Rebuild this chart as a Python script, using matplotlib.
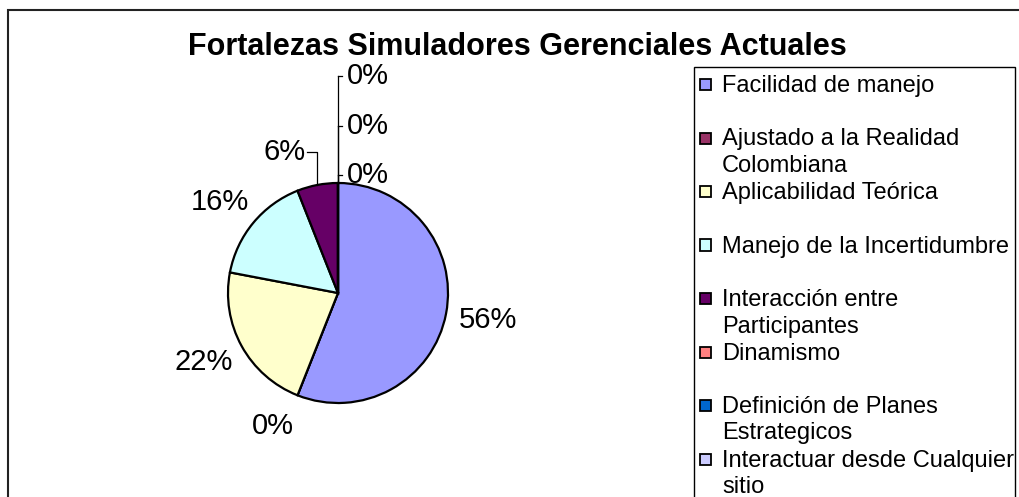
import numpy as np
import matplotlib.pyplot as plt
from matplotlib.patches import Rectangle

plt.rcParams['font.family'] = ['Liberation Sans', 'DejaVu Sans']

# datos del grafico
categorias = [
    'Facilidad de manejo',
    'Ajustado a la Realidad\nColombiana',
    'Aplicabilidad Teórica',
    'Manejo de la Incertidumbre',
    'Interacción entre\nParticipantes',
    'Dinamismo',
    'Definición de Planes\nEstrategicos',
    'Interactuar desde Cualquier\nsitio',
]
porcentajes = [56, 0, 22, 16, 6, 0, 0, 0]
colores = ['#9999FF', '#993366', '#FFFFCC', '#CCFFFF', '#660066',
           '#FF8080', '#0066CC', '#CCCCFF']
titulo = 'Fortalezas Simuladores Gerenciales Actuales'

W, H = 1019, 497
fig = plt.figure(figsize=(W / 100, H / 100), dpi=100)

# marco exterior
fig.patches.append(Rectangle((8 / W, -0.2), 1.2, 1.2 - 10 / H, transform=fig.transFigure,
                             fill=False, edgecolor='#222222', linewidth=1.5))

fig.text(517 / W, 1 - 55 / H, titulo, ha='center', va='baseline',
         fontsize=22, fontweight='bold')

# ejes de la torta: centro (338, 293) px, radio 110 px
cx, cy, r = 338, 293, 110
ax = fig.add_axes([(cx - 2 * r) / W, (H - cy - 2 * r) / H, 4 * r / W, 4 * r / H])
wedges, _ = ax.pie(porcentajes, colors=colores, startangle=90, counterclock=False,
                   radius=1, wedgeprops=dict(edgecolor='black', linewidth=1.6))
ax.set_xlim(-2, 2)
ax.set_ylim(-2, 2)
ax.set_aspect('equal')
ax.axis('off')

fs = 21
k_top = 0
for w, v in zip(wedges, porcentajes):
    txt = f'{v:.0f}%'
    mid = np.deg2rad((w.theta1 + w.theta2) / 2)
    dx, dy = np.cos(mid), np.sin(mid)
    if v == 0 and abs(dy - 1) < 1e-6:
        # ceros apilados arriba con linea guia
        y = 1.07 + k_top * 0.45
        ax.plot([0, 0], [1.0, y], color='black', lw=0.9)
        ax.plot([0, 0.04], [y, y], color='black', lw=0.9)
        ax.text(0.08, y, txt, ha='left', va='center', fontsize=fs)
        k_top += 1
    elif 0 < v < 10:
        y = 1.28
        ax.plot([dx, dx, dx - 0.09], [dy, y, y], color='black', lw=0.9)
        ax.text(dx - 0.11, y, txt, ha='right', va='center', fontsize=fs)
    else:
        hw = 0.135 * len(txt) / 1.5
        if v == 0:
            hw += 0.3
        ax.text(dx * 1.12 + dx * hw, dy * 1.12 + dy * 0.18, txt,
                ha='center', va='center', fontsize=fs)

# leyenda dibujada a mano
fig.patches.append(Rectangle((694 / W, -0.1), (1015 - 694) / W, 0.1 + 1 - 67 / H,
                             transform=fig.transFigure, fill=False,
                             edgecolor='black', linewidth=1.0))
y0, paso, linea = 92, 53.5, 26.5
for i, (cat, col) in enumerate(zip(categorias, colores)):
    base = y0 + i * paso
    fig.patches.append(Rectangle((700 / W, 1 - (base - 2) / H), 11 / W, 11 / H,
                                 transform=fig.transFigure, facecolor=col,
                                 edgecolor='black', linewidth=1.3))
    for j, parte in enumerate(cat.split('\n')):
        fig.text(722 / W, 1 - (base + j * linea) / H, parte, ha='left',
                 va='baseline', fontsize=17)

fig.savefig('out.png', dpi=100)
